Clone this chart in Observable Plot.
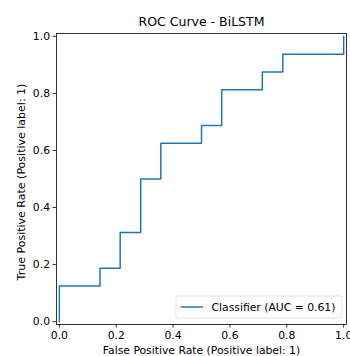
<!DOCTYPE html>
<html>
<head>
<meta charset="utf-8">
<script src="https://cdn.jsdelivr.net/npm/d3@7"></script>
<script src="https://cdn.jsdelivr.net/npm/@observablehq/plot@0.6"></script>
<style>
  html, body { margin: 0; padding: 0; background: #fff; }
  svg { font-family: "DejaVu Sans", sans-serif; }
</style>
</head>
<body>
<div id="chart"></div>
<script>
const fpr = [0, 0, 0.143, 0.143, 0.214, 0.214, 0.286, 0.286, 0.357, 0.357, 0.5, 0.5, 0.571, 0.571, 0.714, 0.714, 0.786, 0.786, 1, 1];
const tpr = [0, 0.125, 0.125, 0.1875, 0.1875, 0.3125, 0.3125, 0.5, 0.5, 0.625, 0.625, 0.6875, 0.6875, 0.8125, 0.8125, 0.875, 0.875, 0.9375, 0.9375, 1];
const tickValues = [0, 0.2, 0.4, 0.6, 0.8, 1.0];
const title = "ROC Curve - BiLSTM";
const xLabel = "False Positive Rate (Positive label: 1)";
const yLabel = "True Positive Rate (Positive label: 1)";
const legendLabel = "Classifier (AUC = 0.61)";
const color = "#1f77b4";

const data = fpr.map((x, i) => ({x, y: tpr[i]}));
const fs = 10.8;

const chart = Plot.plot({
  width: 350,
  height: 356,
  marginLeft: 56,
  marginRight: 4,
  marginTop: 33,
  marginBottom: 32,
  style: {fontFamily: "DejaVu Sans, sans-serif", fontSize: fs + "px", color: "#000", background: "#fff"},
  x: {domain: [-0.01, 1.01]},
  y: {domain: [-0.01, 1.01]},
  marks: [
    Plot.line(data, {x: "x", y: "y", stroke: color, strokeWidth: 1.5}),
    Plot.frame({stroke: "#000", strokeWidth: 0.8}),
    Plot.axisX({ticks: tickValues, tickFormat: d3.format(".1f"), tickSize: 3.5, tickPadding: 3.5, fontSize: fs, label: null, stroke: "#000", strokeWidth: 0.8}),
    Plot.axisY({ticks: tickValues, tickFormat: d3.format(".1f"), tickSize: 3.5, tickPadding: 3, fontSize: fs, label: null, stroke: "#000", strokeWidth: 0.8}),
    Plot.text([title], {frameAnchor: "top", dy: -12, fontSize: 12.5, textAnchor: "middle", lineAnchor: "middle", text: d => d}),
    Plot.text([xLabel], {frameAnchor: "bottom", dy: 26, fontSize: fs, textAnchor: "middle", lineAnchor: "middle", text: d => d}),
    Plot.text([yLabel], {frameAnchor: "left", dx: -35, dy: 3, rotate: -90, fontSize: 11, textAnchor: "middle", lineAnchor: "middle", text: d => d})
  ]
});

// legend box (lower right)
const svg = d3.select(chart);
const g = svg.append("g").attr("text-anchor", "start");
const lx = 176, ly = 296, lw = 166, lh = 22;
g.append("rect").attr("x", lx).attr("y", ly).attr("width", lw).attr("height", lh)
  .attr("rx", 2).attr("fill", "#fff").attr("fill-opacity", 0.8).attr("stroke", "#d9d9d9").attr("stroke-width", 0.8);
g.append("line").attr("x1", lx + 4.5).attr("x2", lx + 27).attr("y1", ly + lh / 2).attr("y2", ly + lh / 2)
  .attr("stroke", color).attr("stroke-width", 1.5);
g.append("text").attr("x", lx + 35.5).attr("y", ly + lh / 2).attr("dy", "0.35em")
  .attr("text-anchor", "start").attr("font-size", fs).attr("fill", "#000").text(legendLabel);

document.getElementById("chart").appendChild(chart);
</script>
</body>
</html>
